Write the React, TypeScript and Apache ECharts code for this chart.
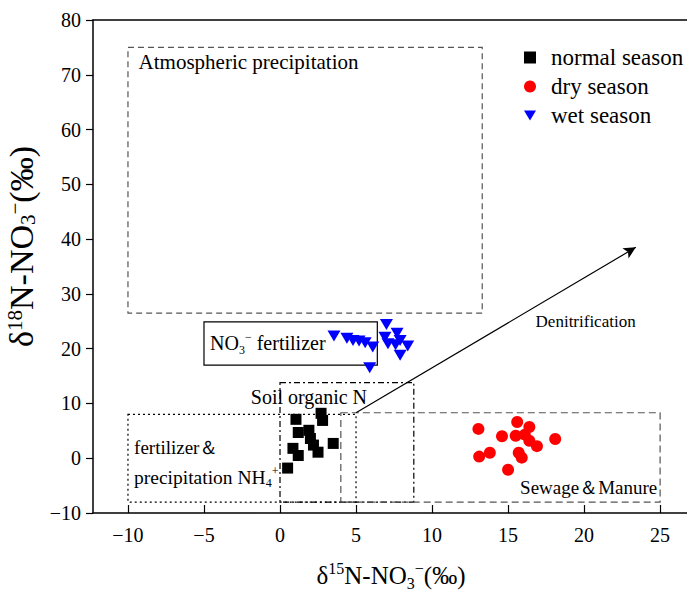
import React, { useEffect, useRef } from 'react';
import * as echarts from 'echarts';

const FONT = 'Liberation Serif';

// axis ticks
const xTickValues = [-10, -5, 0, 5, 10, 15, 20, 25];

// normal season (black squares)
const normalX = [1.05, 2.7, 2.8, 1.2, 1.9, 2.0, 2.2, 2.5, 3.5, 0.85, 1.2, 0.5];
const normalY = [7.1, 8.2, 6.9, 4.7, 5.1, 3.6, 2.4, 1.1, 2.7, 1.8, 0.5, -1.8];

// dry season (red circles)
const dryX = [13.05, 15.6, 16.4, 14.6, 15.5, 16.1, 16.4, 16.9, 18.1, 13.1, 13.8, 15.7, 15.9, 15.0];
const dryY = [5.35, 6.6, 5.7, 4.0, 4.1, 4.3, 3.2, 2.2, 3.5, 0.3, 1.0, 1.0, 0.1, -2.1];

// wet season (blue triangles)
const wetX = [3.55, 4.4, 4.8, 5.2, 5.6, 6.1, 5.9, 7.0, 6.9, 7.7, 7.1, 7.6, 8.4, 7.9, 7.9];
const wetY = [22.3, 21.9, 21.5, 21.4, 21.1, 20.3, 16.5, 24.4, 22.1, 22.8, 20.9, 20.7, 20.5, 18.8, 21.5];

// source boxes (data coordinates)
const boxX1 = [-10, -5, 0, -10, 4];
const boxX2 = [13.3, 6.4, 8.8, 5, 25];
const boxY1 = [26.5, 17, -8, -8, -8];
const boxY2 = [75, 24.9, 13.8, 8, 8.3];

// denitrification arrow
const arrowStart = [5.0, 8.3];
const arrowEnd = [23.4, 38.5];

// annotation texts
const labelTexts = [
  'Atmospheric precipitation',
  '{a|NO}{sub|3}{sup|−}{a| fertilizer}',
  'Soil organic N',
  'fertilizer＆',
  '{a|precipitation NH}{sub|4}{sup|+}',
  'Sewage＆Manure',
  'Denitrification',
];
const labelX = [-9.3, -4.6, 1.9, -9.6, -9.6, 20.3, 20.1];
const labelY = [72.3, 21, 11.2, 2.0, -3.5, -5.3, 25];

const boxStyles = [
  { color: '#555', dash: [6, 4] },
  { color: '#000', dash: null },
  { color: '#000', dash: [6, 3, 2, 3] },
  { color: '#000', dash: [2, 3] },
  { color: '#555', dash: [7, 4] },
];

const labelStyles = [
  { size: 21, align: 'left' },
  { size: 20, align: 'left' },
  { size: 20, align: 'center' },
  { size: 19, align: 'left' },
  { size: 19.5, align: 'left' },
  { size: 19, align: 'center' },
  { size: 17, align: 'center' },
];

const TRI = 'path://M0,0L12,0L6,10Z';

function richFor(size: number, lh = 1.25) {
  return {
    a: { fontFamily: FONT, fontSize: size, lineHeight: Math.round(size * lh), color: '#000' },
    sub: { fontFamily: FONT, fontSize: Math.round(size * 0.62), lineHeight: Math.round(size * 0.5), verticalAlign: 'bottom', color: '#000' },
    sup: { fontFamily: FONT, fontSize: Math.round(size * 0.62), lineHeight: Math.round(size * 0.5), verticalAlign: 'top', color: '#000' },
  };
}

const minusFmt = (v: number) => String(v).replace('-', '−');

export default function App() {
  const ref = useRef<HTMLDivElement>(null);
  useEffect(() => {
    const chart = echarts.init(ref.current!, null, { renderer: 'svg' });
    const option: any = {
      animation: false,
      backgroundColor: '#fff',
      textStyle: { fontFamily: FONT },
      grid: { left: 93, top: 20, right: -2, bottom: 77, containLabel: false, outerBoundsMode: 'none' },
      legend: {
        orient: 'vertical',
        left: 519,
        top: 41,
        itemWidth: 12,
        itemHeight: 12,
        itemGap: 6,
        textStyle: { fontFamily: FONT, fontSize: 23, lineHeight: 23, color: '#000', padding: [0, 0, 0, 10] },
        data: [
          { name: 'normal season', icon: 'rect' },
          { name: 'dry season', icon: 'circle' },
          { name: 'wet season', icon: TRI },
        ],
      },
      xAxis: [
        {
          type: 'value',
          min: -12.3,
          max: 26.9,
          position: 'bottom',
          name: '{a|δ}{sup|15}{a|N-NO}{sub|3}{sup|−}{a|(‰)}',
          nameLocation: 'middle',
          nameGap: 47,
          nameTextStyle: { fontFamily: FONT, fontSize: 25, rich: richFor(25) },
          axisLine: { onZero: false, lineStyle: { color: '#000', width: 1.5 } },
          axisTick: { inside: true, length: 8, customValues: xTickValues, lineStyle: { color: '#000', width: 1.2 } },
          axisLabel: { customValues: xTickValues, color: '#000', fontSize: 20, fontFamily: FONT, margin: 12, formatter: minusFmt },
          splitLine: { show: false },
        },
        {
          type: 'value',
          min: -12.3,
          max: 26.9,
          position: 'top',
          axisLine: { show: true, onZero: false, lineStyle: { color: '#000', width: 1.5 } },
          axisTick: { show: false },
          axisLabel: { show: false },
          splitLine: { show: false },
        },
      ],
      yAxis: {
        type: 'value',
        min: -10,
        max: 80,
        interval: 10,
        name: '{a|δ}{sup|18}{a|N-NO}{sub|3}{sup|−}{a|(‰)}',
        nameLocation: 'middle',
        nameGap: 42,
        nameTextStyle: { fontFamily: FONT, fontSize: 34, rich: richFor(34, 1.0), padding: [0, 0, 0, 40] },
        axisLine: { onZero: false, lineStyle: { color: '#000', width: 1.5 } },
        axisTick: { inside: false, length: 7, lineStyle: { color: '#000', width: 1.2 } },
        axisLabel: { color: '#000', fontSize: 20, fontFamily: FONT, margin: 12, formatter: minusFmt },
        splitLine: { show: false },
      },
      series: [
        {
          type: 'custom',
          name: 'boxes',
          coordinateSystem: 'cartesian2d',
          silent: true,
          z: 1,
          data: boxX1.map((x, i) => [x, boxY1[i], boxX2[i], boxY2[i]]),
          encode: { x: [0, 2], y: [1, 3] },
          renderItem: (params: any, api: any) => {
            const i = params.dataIndex;
            const p1 = api.coord([api.value(0), api.value(3)]);
            const p2 = api.coord([api.value(2), api.value(1)]);
            const s = boxStyles[i];
            return {
              type: 'rect',
              shape: { x: p1[0], y: p1[1], width: p2[0] - p1[0], height: p2[1] - p1[1] },
              style: { fill: 'none', stroke: s.color, lineWidth: 1.2, lineDash: s.dash || undefined },
            };
          },
        },
        {
          type: 'custom',
          name: 'labels',
          coordinateSystem: 'cartesian2d',
          silent: true,
          z: 3,
          data: labelX.map((x, i) => [x, labelY[i]]),
          encode: { x: 0, y: 1 },
          renderItem: (params: any, api: any) => {
            const i = params.dataIndex;
            const p = api.coord([api.value(0), api.value(1)]);
            const s = labelStyles[i];
            return {
              type: 'text',
              x: p[0],
              y: p[1],
              style: {
                text: labelTexts[i],
                rich: richFor(s.size),
                fontFamily: FONT,
                fontSize: s.size,
                fill: '#000',
                align: s.align,
                verticalAlign: 'middle',
              },
            };
          },
        },
        {
          type: 'scatter',
          name: 'normal season',
          symbol: 'rect',
          symbolSize: 11,
          itemStyle: { color: '#000', opacity: 1 },
          z: 4,
          data: normalX.map((x, i) => [x, normalY[i]]),
          markLine: {
            silent: true,
            symbol: ['none', 'arrow'],
            symbolSize: [9, 12],
            label: { show: false },
            lineStyle: { color: '#000', width: 1.2, type: 'solid' },
            data: [[{ coord: arrowStart }, { coord: arrowEnd }]],
          },
        },
        {
          type: 'scatter',
          name: 'dry season',
          symbol: 'circle',
          symbolSize: 12,
          itemStyle: { color: '#ff0000', opacity: 1 },
          z: 4,
          data: dryX.map((x, i) => [x, dryY[i]]),
        },
        {
          type: 'scatter',
          name: 'wet season',
          symbol: TRI,
          symbolSize: [13, 11],
          itemStyle: { color: '#0000ff', opacity: 1 },
          z: 4,
          data: wetX.map((x, i) => [x, wetY[i]]),
        },
      ],
    };
    chart.setOption(option);
    return () => chart.dispose();
  }, []);
  return (
    <div style={{ position: 'fixed', left: 0, top: 0, width: 687, height: 590, background: '#fff' }}>
      <div ref={ref} style={{ width: 687, height: 590 }} />
    </div>
  );
}
